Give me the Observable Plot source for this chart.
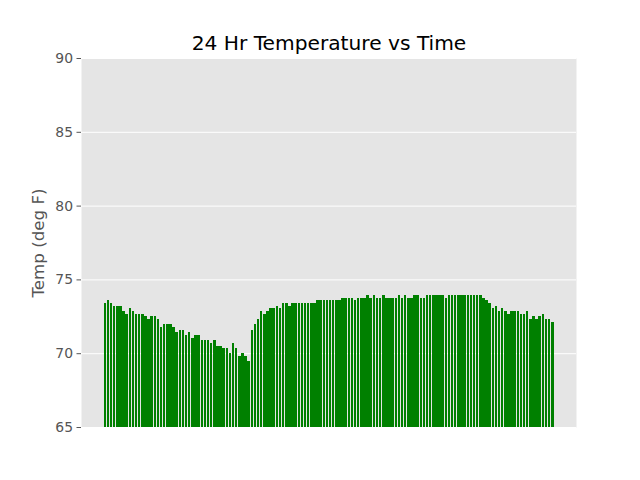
<!DOCTYPE html>
<html>
<head>
<meta charset="utf-8">
<script src="https://cdn.jsdelivr.net/npm/d3@7"></script>
<script src="https://cdn.jsdelivr.net/npm/@observablehq/plot@0.6"></script>
<style>
  html, body { margin: 0; padding: 0; background: #ffffff; }
  #chart svg { display: block; }
</style>
</head>
<body>
<div id="chart"></div>
<script>
const title = "24 Hr Temperature vs Time";
const yLabel = "Temp (deg F)";
const yTicks = [65, 70, 75, 80, 85, 90];
const yDomain = [65, 90];

// One reading every 10 minutes over 24 hours (deg F)
const temps = [
  73.4, 73.58, 73.4, 73.22, 73.22, 73.22, 72.86, 72.68, 73.04, 72.86,
  72.68, 72.68, 72.68, 72.5, 72.32, 72.5, 72.5, 72.32, 71.78, 71.96,
  71.96, 71.96, 71.78, 71.42, 71.6, 71.6, 71.24, 71.42, 71.06, 71.24,
  71.24, 70.88, 70.88, 70.88, 70.7, 70.88, 70.52, 70.52, 70.34, 70.34,
  69.98, 70.7, 70.34, 69.8, 69.98, 69.8, 69.44, 71.6, 71.96, 72.32,
  72.86, 72.68, 72.86, 73.04, 73.04, 73.22, 73.04, 73.4, 73.4, 73.22,
  73.4, 73.4, 73.4, 73.4, 73.4, 73.4, 73.4, 73.4, 73.58, 73.58,
  73.58, 73.58, 73.58, 73.58, 73.58, 73.58, 73.76, 73.76, 73.76, 73.76,
  73.58, 73.76, 73.76, 73.76, 73.94, 73.76, 73.94, 73.76, 73.76, 73.94,
  73.76, 73.76, 73.76, 73.76, 73.94, 73.76, 73.94, 73.76, 73.76, 73.94,
  73.94, 73.76, 73.76, 73.94, 73.94, 73.94, 73.94, 73.94, 73.94, 73.76,
  73.94, 73.94, 73.94, 73.94, 73.94, 73.94, 73.94, 73.94, 73.94, 73.94,
  73.94, 73.76, 73.58, 73.4, 73.04, 73.22, 72.86, 73.04, 72.86, 72.68,
  72.86, 72.86, 72.86, 72.68, 72.68, 72.86, 72.32, 72.5, 72.32, 72.5,
  72.68, 72.32, 72.32, 72.14
];

const data = temps.map((t, i) => ({i, t}));
const n = temps.length;
const barWidth = 0.8;
const span = (n - 1) + barWidth;
const xDomain = [-barWidth / 2 - 0.05 * span, (n - 1) + barWidth / 2 + 0.05 * span];

const chart = Plot.plot({
  width: 640,
  height: 480,
  marginLeft: 81,
  marginRight: 64,
  marginTop: 58,
  marginBottom: 53,
  style: {fontFamily: "DejaVu Sans", background: "#ffffff"},
  x: {type: "linear", domain: xDomain, axis: null},
  y: {domain: yDomain, axis: null},
  marks: [
    Plot.frame({fill: "#E5E5E5", stroke: "none"}),
    Plot.gridY(yTicks, {stroke: "#ffffff", strokeOpacity: 1, strokeWidth: 1}),
    Plot.rectY(data, {
      x1: d => d.i - barWidth / 2,
      x2: d => d.i + barWidth / 2,
      y: "t",
      fill: "#008000",
      clip: true,
      shapeRendering: "crispEdges"
    }),
    Plot.axisY(yTicks, {
      tickSize: 4.5,
      tickPadding: 4,
      fontSize: 13.9,
      color: "#555555",
      label: null,
      tickFormat: d => String(d)
    }),
    Plot.text([yLabel], {
      frameAnchor: "left",
      textAnchor: "middle",
      rotate: -90,
      dx: -43,
      fontSize: 16.7,
      fill: "#555555",
      text: d => d
    }),
    Plot.text([title], {
      frameAnchor: "top",
      dy: -9,
      lineAnchor: "bottom",
      fontSize: 20.2,
      fill: "#000000",
      text: d => d
    })
  ]
});

document.getElementById("chart").appendChild(chart);
</script>
</body>
</html>
